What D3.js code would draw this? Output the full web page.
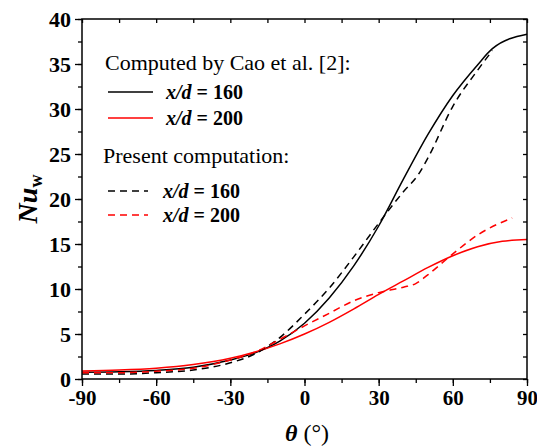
<!DOCTYPE html>
<html><head><meta charset="utf-8">
<script src="https://cdn.jsdelivr.net/npm/d3@7"></script>
<style>
body{margin:0;background:#fff;}
</style></head>
<body>
<svg id="c" width="537" height="446"></svg>
<script>
// Data
const xTicks = [-90,-60,-30,0,30,60,90];
const yTicks = [0,5,10,15,20,25,30,35,40];
const caoTheta160 = [-90,-75,-60,-45,-30,-20,-10,0,10,20,30,40,50,60,70,76,90];
const caoNu160    = [0.75,0.8,0.95,1.3,2.1,2.9,4.2,6.2,9.0,12.6,17.0,22.2,27.2,31.5,34.9,36.7,38.3];
const caoTheta200 = [-90,-75,-60,-45,-30,-20,-10,0,10,20,30,40,50,60,70,80,90];
const caoNu200    = [0.9,1.0,1.2,1.6,2.3,3.0,3.9,5.0,6.3,7.8,9.4,10.9,12.4,13.7,14.7,15.3,15.5];
const presTheta160 = [-90,-75,-60,-45,-30,-20,-10,0,10,20,30,40,46,50,60,70,76];
const presNu160    = [0.55,0.55,0.7,1.0,1.8,2.8,4.6,7.2,10.1,13.6,17.3,20.8,22.7,24.6,30.3,34.3,36.5];
const presTheta200 = [-90,-75,-60,-45,-30,-20,-10,0,10,20,30,40,45,50,60,70,84];
const presNu200    = [0.7,0.7,0.85,1.2,2.1,3.0,4.4,5.9,7.3,8.7,9.6,10.2,10.6,11.6,13.9,16.0,17.9];

const FONT = "'Liberation Serif','Times New Roman',Times,'DejaVu Serif',serif";

const series = [
  {t:caoTheta160, v:caoNu160, color:"#000", dash:null},
  {t:caoTheta200, v:caoNu200, color:"#ff0000", dash:null},
  {t:presTheta160, v:presNu160, color:"#000", dash:"7,5"},
  {t:presTheta200, v:presNu200, color:"#ff0000", dash:"7,5"}
];

const L=82, R=527, T=19, B=379;
const svg = d3.select("#c");
const x = d3.scaleLinear().domain([-90,90]).range([L,R]);
const y = d3.scaleLinear().domain([0,40]).range([B,T]);

// lines
const line = d3.line().x(d=>x(d[0])).y(d=>y(d[1])).curve(d3.curveMonotoneX);
series.forEach(s=>{
  svg.append("path").datum(s.t.map((t,i)=>[t,s.v[i]]))
    .attr("d",line).attr("fill","none").attr("stroke",s.color)
    .attr("stroke-width",1.5).attr("stroke-dasharray",s.dash);
});

// axes
const minorX = d3.range(-90,91,15), minorY = d3.range(0,40.1,2.5);
function styleAx(g){g.attr("font-family",FONT);g.select(".domain").remove();g.selectAll("line").attr("stroke","#000").attr("stroke-width",1.3);}
const axBot = svg.append("g").attr("transform",`translate(0,${B})`)
  .call(d3.axisBottom(x).tickValues(minorX).tickSize(4).tickFormat(""));
styleAx(axBot);
const axBotM = svg.append("g").attr("transform",`translate(0,${B})`)
  .call(d3.axisBottom(x).tickValues(xTicks).tickSize(7).tickPadding(4).tickFormat(d=>d));
styleAx(axBotM);
axBotM.selectAll("text").attr("font-size",21).attr("font-weight","bold").attr("fill","#000").attr("font-family",FONT);
const axLft = svg.append("g").attr("transform",`translate(${L},0)`)
  .call(d3.axisLeft(y).tickValues(minorY).tickSize(4).tickFormat(""));
styleAx(axLft);
const axLftM = svg.append("g").attr("transform",`translate(${L},0)`)
  .call(d3.axisLeft(y).tickValues(yTicks).tickSize(7).tickPadding(4).tickFormat(d=>d));
styleAx(axLftM);
axLftM.selectAll("text").attr("font-size",22).attr("font-weight","bold").attr("fill","#000").attr("font-family",FONT);
const axTop = svg.append("g").attr("transform",`translate(0,${T})`)
  .call(d3.axisBottom(x).tickValues(minorX).tickSize(4).tickFormat(""));
styleAx(axTop);
const axRgt = svg.append("g").attr("transform",`translate(${R},0)`)
  .call(d3.axisLeft(y).tickValues(minorY).tickSize(4).tickFormat(""));
styleAx(axRgt);
svg.append("rect").attr("x",L).attr("y",T).attr("width",R-L).attr("height",B-T)
  .attr("fill","none").attr("stroke","#000").attr("stroke-width",1.5);

// axis titles
const xt = svg.append("text").attr("x",307).attr("y",441).attr("text-anchor","middle").attr("font-size",24).attr("font-family",FONT);
xt.append("tspan").text("θ").attr("font-weight","bold").attr("font-style","italic");
xt.append("tspan").text(" (°)");
const yt = svg.append("text").attr("transform","translate(37,199) rotate(-90)").attr("text-anchor","middle")
  .attr("font-size",28).attr("font-weight","bold").attr("font-family",FONT);
yt.append("tspan").text("Nu").attr("font-style","italic");
yt.append("tspan").text("w").attr("font-size",18).attr("dy",5);

// legend
svg.append("text").attr("x",105).attr("y",70).attr("font-size",22).attr("font-family",FONT).text("Computed by Cao et al. [2]:");
svg.append("text").attr("x",103).attr("y",163).attr("font-size",22).attr("font-family",FONT).text("Present computation:");
const leg = [
  {y:92, ty:99, tx:166, s:series[0], label:"160"},
  {y:118, ty:125, tx:166, s:series[1], label:"200"},
  {y:191, ty:198, tx:163, s:series[2], label:"160"},
  {y:215, ty:222, tx:163, s:series[3], label:"200"}
];
leg.forEach(d=>{
  svg.append("line").attr("x1",108).attr("x2",d.s.dash?148:153).attr("y1",d.y).attr("y2",d.y)
    .attr("stroke",d.s.color).attr("stroke-width",1.5).attr("stroke-dasharray",d.s.dash);
  const t = svg.append("text").attr("x",d.tx).attr("y",d.ty).attr("font-size",20).attr("font-weight","bold").attr("font-family",FONT);
  t.append("tspan").text("x/d").attr("font-style","italic");
  t.append("tspan").text(" = "+d.label);
});
</script>
</body></html>
